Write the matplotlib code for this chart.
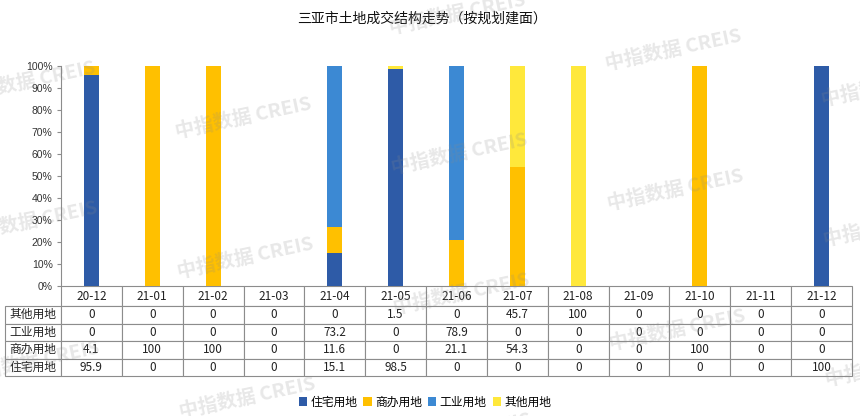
import matplotlib.pyplot as plt
from matplotlib.ticker import PercentFormatter
import numpy as np

plt.rcParams['font.family'] = ['Noto Sans CJK SC', 'DejaVu Sans']

# data (share of planned floor area, %)
months = ['20-12', '21-01', '21-02', '21-03', '21-04', '21-05', '21-06',
          '21-07', '21-08', '21-09', '21-10', '21-11', '21-12']
residential = [95.9, 0, 0, 0, 15.1, 98.5, 0, 0, 0, 0, 0, 0, 100]
commercial = [4.1, 100, 100, 0, 11.6, 0, 21.1, 54.3, 0, 0, 100, 0, 0]
industrial = [0, 0, 0, 0, 73.2, 0, 78.9, 0, 0, 0, 0, 0, 0]
other = [0, 0, 0, 0, 0, 1.5, 0, 45.7, 100, 0, 0, 0, 0]

series_names = ['住宅用地', '商办用地', '工业用地', '其他用地']
series = [residential, commercial, industrial, other]
colors = ['#2E5BA7', '#FFC000', '#3C89D3', '#FFE83B']

W, H = 860, 416
AX_W, AX_H = 852 - 61, 220
fig = plt.figure(figsize=(W / 100, H / 100), dpi=100)
ax = fig.add_axes([61 / W, 1 - 286 / H, AX_W / W, AX_H / H])

x = np.arange(len(months))
bottom = np.zeros(len(months))
for name, vals, c in zip(series_names, series, colors):
    v = np.array(vals) / 100
    ax.bar(x, v, 0.25, bottom=bottom, color=c, label=name, zorder=2)
    bottom += v

ax.set_xlim(-0.5, len(months) - 0.5)
ax.set_ylim(0, 1)
ax.set_yticks(np.arange(0, 1.01, 0.1))
ax.yaxis.set_major_formatter(PercentFormatter(1.0, decimals=0))
ax.set_xticks([])
for s in ['top', 'right', 'bottom']:
    ax.spines[s].set_visible(False)
ax.spines['left'].set_color('#8c8c8c')
ax.spines['left'].set_linewidth(0.8)
ax.tick_params(axis='y', length=3, width=0.8, color='#8c8c8c', pad=3,
               labelsize=7.5, labelcolor='#333333')
for lab in ax.get_yticklabels():
    lab.set_fontfamily('Liberation Sans')


def fmt(v):
    return str(int(v)) if float(v).is_integer() else f'{v:.1f}'


# table rows go top-down in reverse stacking order
rows = list(reversed(series_names))
cell_text = [[fmt(v) for v in vals] for vals in reversed(series)]
tbl = ax.table(cellText=cell_text, rowLabels=rows, colLabels=months,
               cellLoc='center', rowLoc='center', loc='bottom')
tbl.auto_set_font_size(False)
tbl.set_fontsize(8.5)
# sizes in axes fractions, so the table hangs right under the plot
for (r, c), cell in tbl.get_celld().items():
    cell.set_edgecolor('#8c8c8c')
    cell.set_linewidth(0.8)
    cell.set_width((54 if c == -1 else AX_W / len(months)) / AX_W)
    cell.set_height((20 if r == 0 else 17.5) / AX_H)
    cell.get_text().set_color('#222222')

fig.text(422 / W, 1 - 19 / H, '三亚市土地成交结构走势（按规划建面）',
         ha='center', va='center', fontsize=10, color='#111111')

fig.legend(loc='center', bbox_to_anchor=(425 / W, 1 - 402 / H), ncol=4,
           frameon=False, fontsize=8.5, handlelength=0.7, handleheight=0.7,
           handletextpad=0.3, columnspacing=0.5, borderaxespad=0)

# faint "中指数据 CREIS" watermark grid
for i in range(-2, 5):
    for j in range(-2, 4):
        px = 243 + 216 * i + 2 * j
        py = 118 + 36 * i + 140 * j
        if -60 < px < W + 80 and -30 < py < H + 30:
            fig.text(px / W, 1 - py / H, '中指数据 CREIS', ha='center', va='center',
                     rotation=12, fontsize=14, fontweight='bold',
                     color='#8a8a8a', alpha=0.2, zorder=10)

fig.savefig('out.png', dpi=100)
